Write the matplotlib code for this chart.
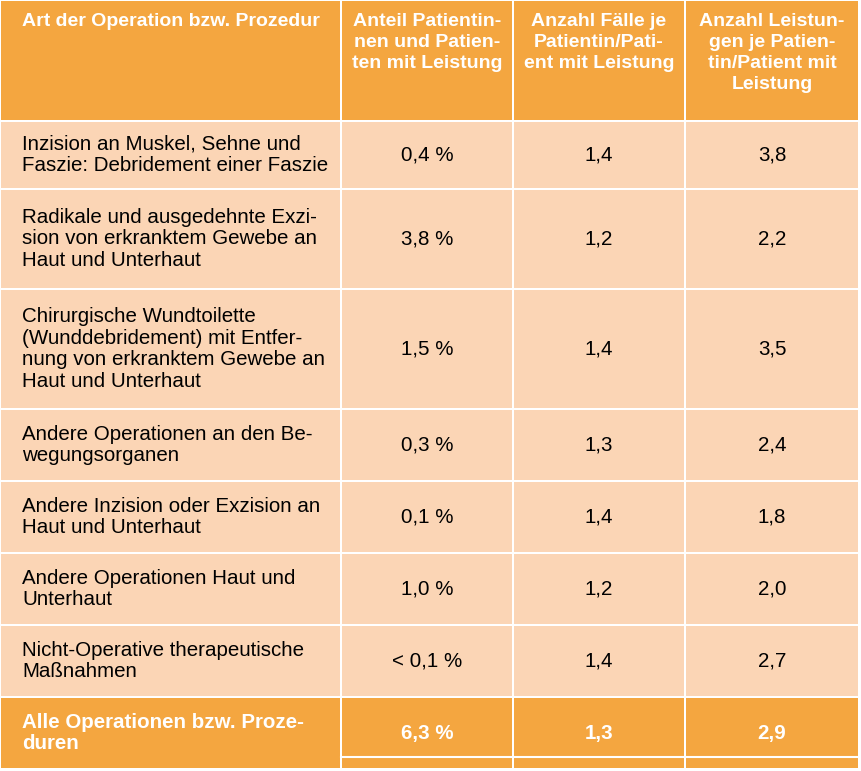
import matplotlib
matplotlib.use("Agg")
import matplotlib.pyplot as plt
from matplotlib.patches import Rectangle

headers = ["Art der Operation bzw. Prozedur",
           "Anteil Patientin-\nnen und Patien-\nten mit Leistung",
           "Anzahl Fälle je\nPatientin/Pati-\nent mit Leistung",
           "Anzahl Leistun-\ngen je Patien-\ntin/Patient mit\nLeistung"]
categories = ["Inzision an Muskel, Sehne und\nFaszie: Debridement einer Faszie",
              "Radikale und ausgedehnte Exzi-\nsion von erkranktem Gewebe an\nHaut und Unterhaut",
              "Chirurgische Wundtoilette\n(Wunddebridement) mit Entfer-\nnung von erkranktem Gewebe an\nHaut und Unterhaut",
              "Andere Operationen an den Be-\nwegungsorganen",
              "Andere Inzision oder Exzision an\nHaut und Unterhaut",
              "Andere Operationen Haut und\nUnterhaut",
              "Nicht-Operative therapeutische\nMaßnahmen"]
anteil = ["0,4 %", "3,8 %", "1,5 %", "0,3 %", "0,1 %", "1,0 %", "< 0,1 %"]
faelle = ["1,4", "1,2", "1,4", "1,3", "1,4", "1,2", "1,4"]
leistungen = ["3,8", "2,2", "3,5", "2,4", "1,8", "2,0", "2,7"]
total = ["Alle Operationen bzw. Proze-\nduren", "6,3 %", "1,3", "2,9"]

col_x = [0, 341, 513, 685, 859]
row_y = [0, 121, 189, 289, 409, 481, 553, 625, 697, 769]
HEAD = "#F4A640"
BODY = "#FBD5B5"
FONT = ["Liberation Sans", "DejaVu Sans"]

fig = plt.figure(figsize=(8.61, 7.71), dpi=100)
ax = fig.add_axes([0, 0, 1, 1])
ax.set_xlim(0, 861)
ax.set_ylim(771, 0)
ax.axis("off")

rows = [headers] + [[c, a, f, l] for c, a, f, l in zip(categories, anteil, faelle, leistungen)] + [total]
for r, row in enumerate(rows):
    y0, y1 = row_y[r], row_y[r + 1]
    special = r == 0 or r == len(rows) - 1
    for c, txt in enumerate(row):
        x0, x1 = col_x[c], col_x[c + 1]
        ax.add_patch(Rectangle((x0 + 1, y0 + 1), x1 - x0 - 2, y1 - y0 - 2,
                               facecolor=HEAD if special else BODY, edgecolor="none"))
        color = "white" if special else "black"
        weight = "bold" if special else "normal"
        if r == 0:
            if c == 0:
                ax.text(x0 + 22, y0 + 13, txt, ha="left", va="top", fontsize=14,
                        color=color, fontweight=weight, family=FONT, linespacing=1.3)
            else:
                ax.text((x0 + x1) / 2, y0 + 13, txt, ha="center", va="top", fontsize=14,
                        color=color, fontweight=weight, family=FONT, linespacing=1.3)
        elif c == 0:
            ax.text(x0 + 22, (y0 + y1) / 2, txt, ha="left", va="center", fontsize=14.8,
                    color=color, fontweight=weight, family=FONT, linespacing=1.17)
        else:
            ax.text((x0 + x1) / 2, (y0 + y1) / 2, txt, ha="center", va="center", fontsize=14.8,
                    color=color, fontweight=weight, family=FONT)
# thin extra line in last row numeric columns
ax.plot([col_x[1], col_x[4]], [757, 757], color="white", lw=1.5)

fig.savefig("out.png", dpi=100, facecolor="white")
